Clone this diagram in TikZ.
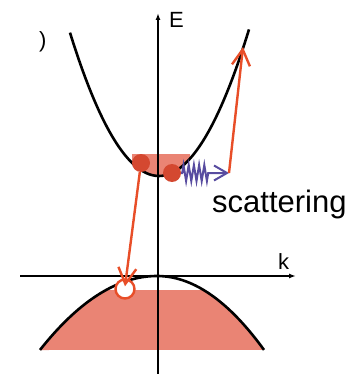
\documentclass[tikz,border=0pt]{standalone}
\usepackage{fontspec}
\setmainfont{Liberation Sans}
\usetikzlibrary{arrows.meta,positioning,decorations.pathmorphing}
\definecolor{BandPink}{RGB}{234,132,116}
\definecolor{ArrowRed}{RGB}{232,78,40}
\definecolor{DotRed}{RGB}{212,72,48}
\definecolor{PhononBlue}{RGB}{88,76,160}

\begin{document}
\begin{tikzpicture}[
  x=1pt,y=-1pt,
  band/.style={line width=2.6pt,black,line join=round},
  axis/.style={-{Latex[length=7pt,width=5pt]},line width=1.4pt},
  electron/.style={circle,fill=DotRed,minimum size=18pt,inner sep=0pt},
  hole/.style={circle,draw=ArrowRed,fill=white,line width=2.4pt,minimum size=19pt,inner sep=0pt},
  transition/.style={-{Straight Barb[length=16pt,width=18pt]},ArrowRed,line width=2.4pt},
  phonon/.style={-{Straight Barb[length=13pt,width=15pt]},PhononBlue,line width=2pt,
    decorate,decoration={zigzag,segment length=5.2pt,amplitude=8pt,pre length=1pt,post length=20pt}},
  axislabel/.style={font=\fontsize{22}{24}\selectfont,inner sep=0pt,anchor=base west}
]
  \useasboundingbox (0,0) rectangle (362,374);

  % occupied states
  \fill[BandPink] (132,154) -- plot[domain=132:190,samples=30] (\x,{176-0.0181*(\x-159)^2}) -- (190,154) -- cycle;
  \fill[BandPink] (40,350) -- plot[domain=40:106,samples=30] (\x,{276+0.0054*(\x-157)^2})
    -- (203.5,290) -- plot[domain=203.5:264,samples=30] (\x,{276+0.00646*(\x-157)^2}) -- cycle;

  % bands
  \draw[band] plot[domain=70:249,samples=60,smooth] (\x,{176-0.0181*(\x-159)^2});
  \draw[band] plot[domain=40:157,samples=40,smooth] (\x,{276+0.0054*(\x-157)^2})
    -- plot[domain=157:264,samples=40,smooth] (\x,{276+0.00646*(\x-157)^2});

  % axes
  \coordinate (Ebot) at (158,374);
  \coordinate (Etop) at (158,13);
  \coordinate (kleft) at (20,276);
  \coordinate (kright) at (296,276);
  \draw[axis] (Ebot) -- (Etop);
  \draw[axis] (kleft) -- (kright);
  \node[axislabel] (Elabel) at (169,28) {E};
  \node[axislabel] (klabel) at (278,269) {k};
  \node[axislabel] (paren) at (39,48) {)};
  \node[axislabel,font=\fontsize{31}{33}\selectfont] (scatlabel) at (212,212) {scattering};

  % carriers
  \node[hole] (h) at (125,289) {};
  \node[electron] (e1) at (141,163) {};
  \node[electron] (e2) at (172,173) {};
  \coordinate (kick) at (229,173);
  \coordinate (final) at (243,47);

  \draw[transition] (e1) -- ([yshift=-8pt]h.north);
  \draw[phonon] (e2) -- (kick);
  \draw[transition] (kick) -- (final);
\end{tikzpicture}
\end{document}
